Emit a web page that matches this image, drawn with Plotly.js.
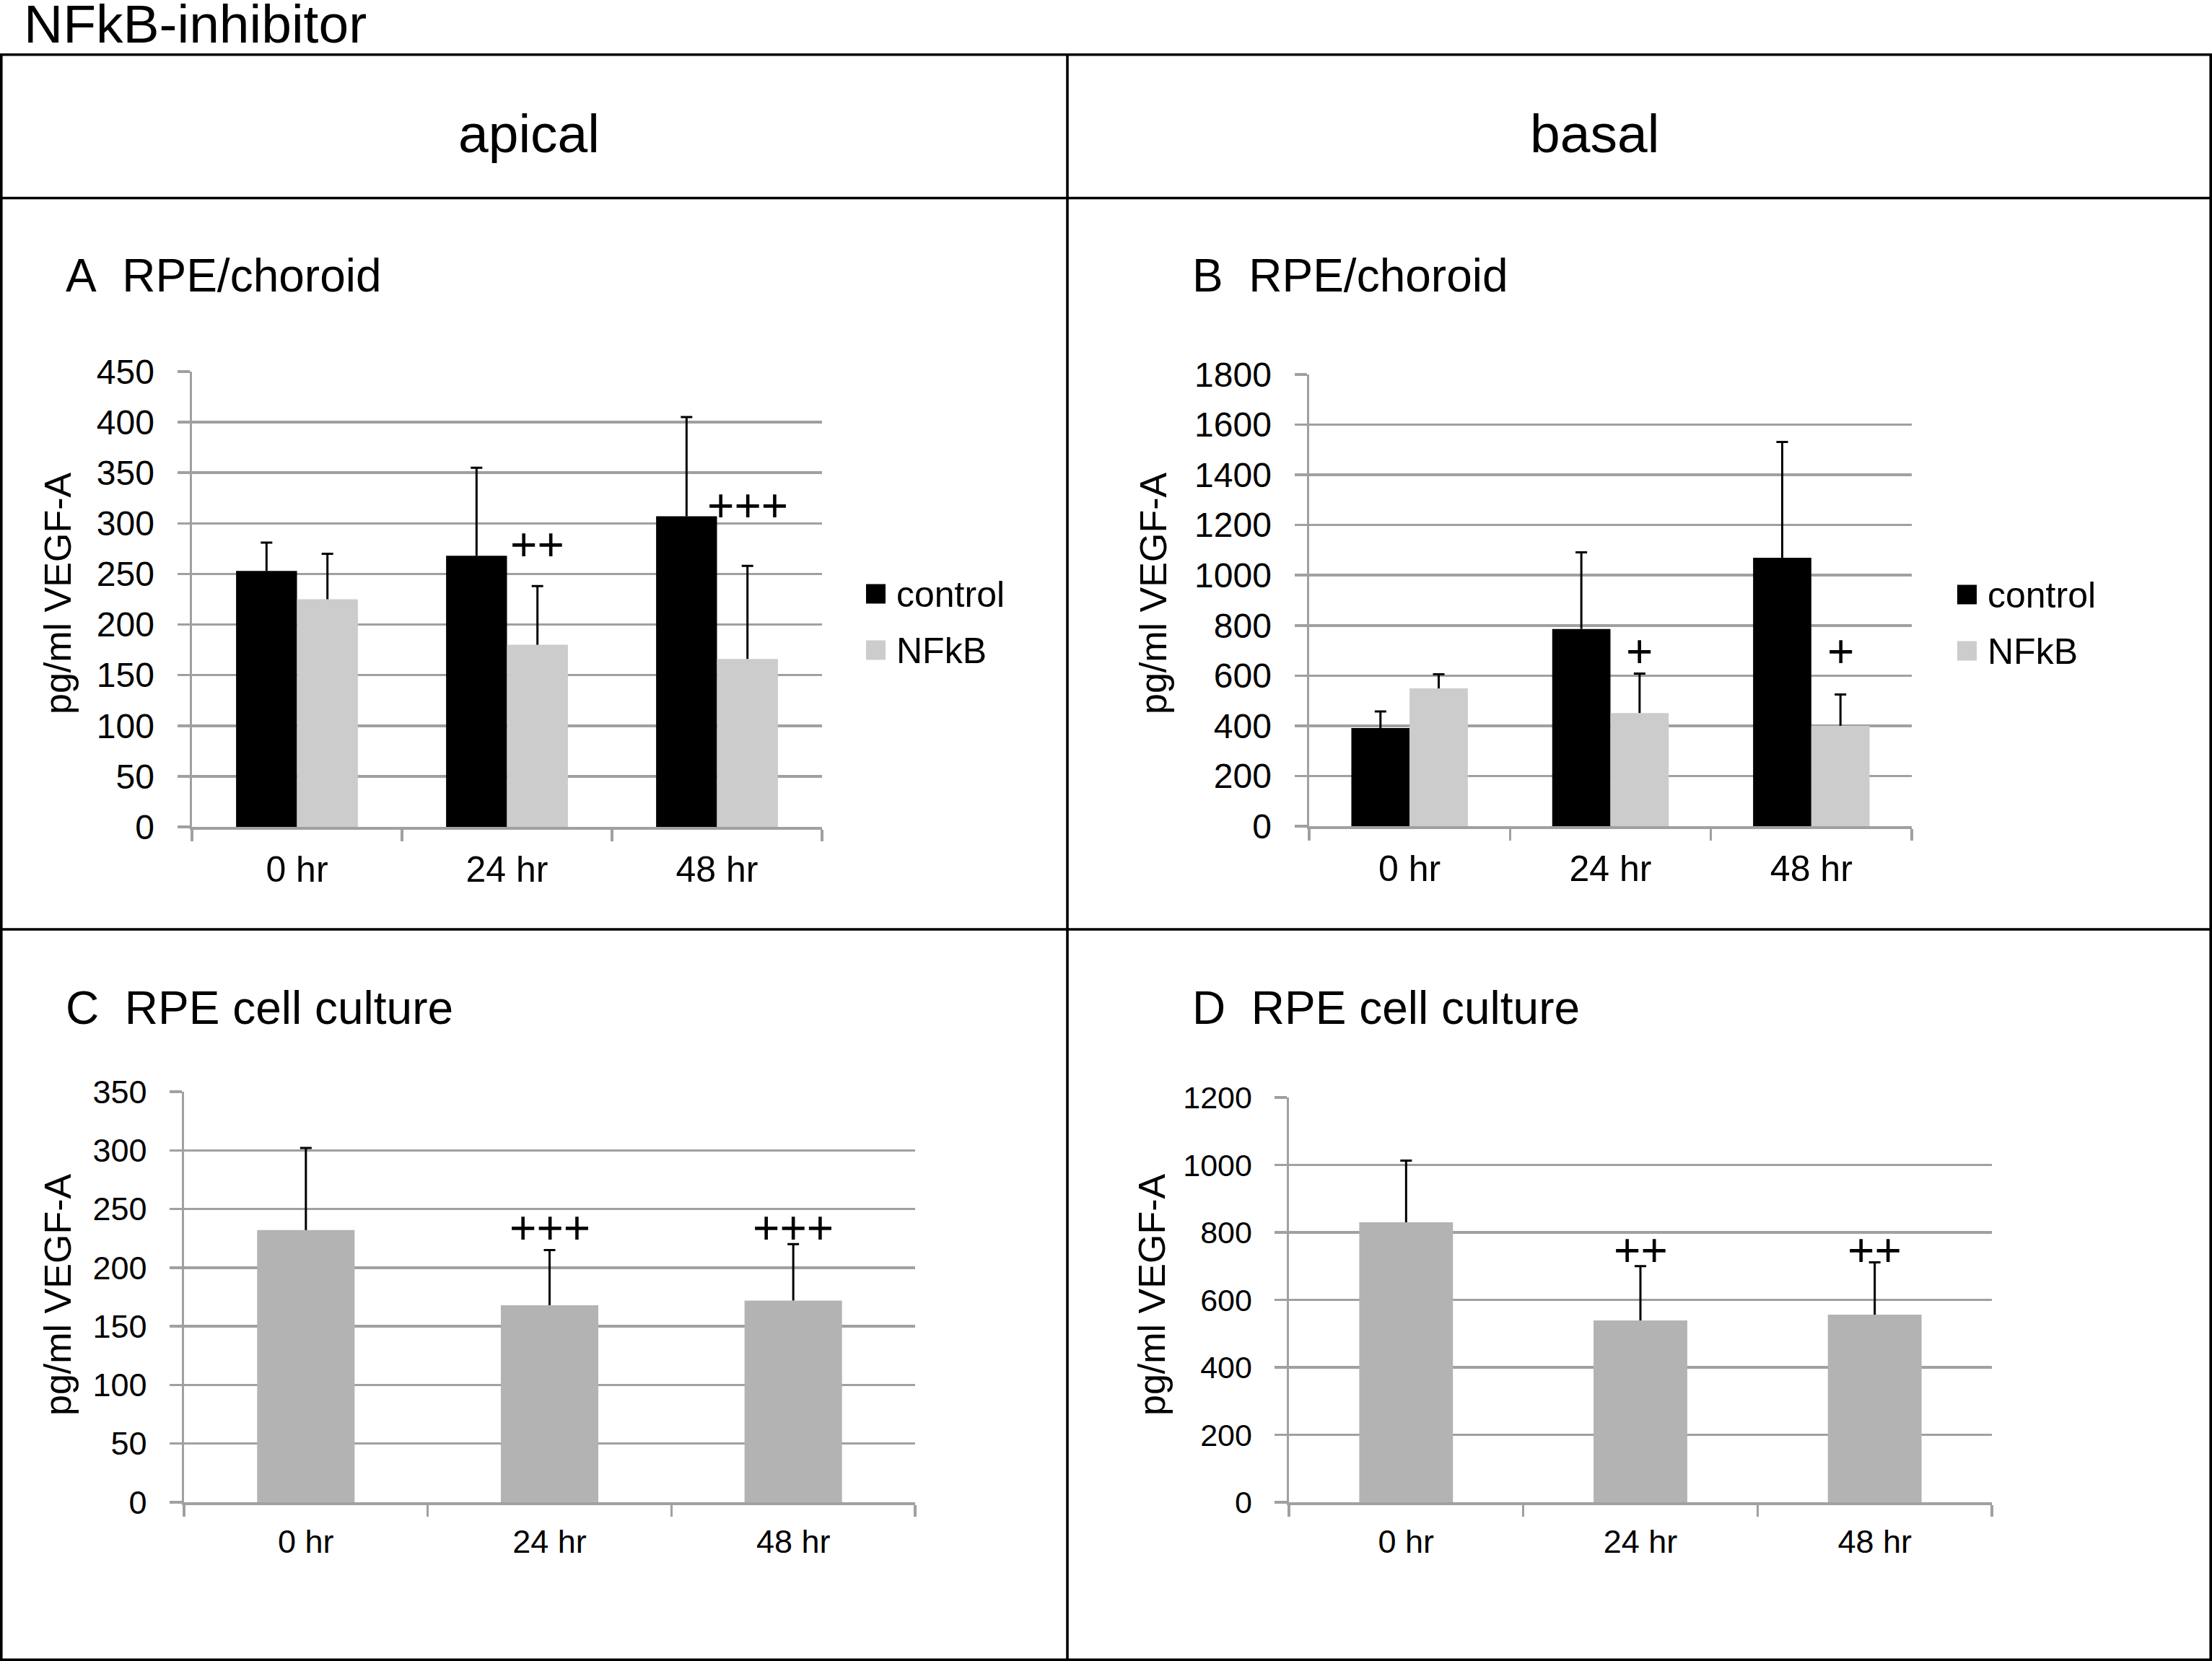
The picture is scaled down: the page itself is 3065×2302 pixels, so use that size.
<!DOCTYPE html>
<html>
<head>
<meta charset="utf-8">
<script src="https://cdn.plot.ly/plotly-3.0.1.min.js"></script>
<style>html,body{margin:0;padding:0;background:#fff;}#chart{width:3065px;height:2302px;}</style>
</head>
<body>
<div id="chart"></div>
<script>
// ---------- data ----------
const categories = ['0 hr', '24 hr', '48 hr'];

const apicalRpeControl    = [253, 268, 307];
const apicalRpeControlErr = [28, 87, 98];
const apicalRpeNfkb       = [225, 180, 166];
const apicalRpeNfkbErr    = [45, 58, 92];

const basalRpeControl     = [391, 786, 1070];
const basalRpeControlErr  = [66, 305, 461];
const basalRpeNfkb        = [549, 451, 400];
const basalRpeNfkbErr     = [56, 157, 125];

const apicalCell          = [232, 168, 172];
const apicalCellErr       = [70, 47, 48];
const basalCell           = [830, 539, 556];
const basalCellErr        = [183, 161, 155];

const sigA = ['', '++', '+++'];
const sigB = ['', '+', '+'];
const sigC = ['', '+++', '+++'];
const sigD = ['', '++', '++'];

const seriesNames = ['control', 'NFkB'];
const yTitle = 'pg/ml VEGF-A';

// ---------- style ----------
const W = 3065, H = 2302;
const FONT = 'Liberation Sans, Arial, Helvetica, sans-serif';
const GRID = '#a0a0a0';
const C_CTRL = '#000000';
const C_NFKB = '#cccccc';
const C_CELL = '#b3b3b3';
const fx = p => p / W;
const fy = p => 1 - p / H;

function xAxis(x0, x1, anchor, size) {
  return {domain: [fx(x0), fx(x1)], anchor: anchor, type: 'category', range: [-0.5, 2.5],
    tickson: 'boundaries', ticks: 'outside', ticklen: 16, tickwidth: 3.5, tickcolor: GRID,
    showline: true, linecolor: GRID, linewidth: 3.5, showgrid: false, zeroline: false,
    ticklabelstandoff: 12, tickfont: {family: FONT, size: size, color: '#000'}, fixedrange: true};
}
function yAxis(y0, y1, anchor, range, dtick, size) {
  return {domain: [fy(y1), fy(y0)], anchor: anchor, range: range, dtick: dtick, tick0: 0,
    ticks: 'outside', ticklen: 17, tickwidth: 3.5, tickcolor: GRID,
    showline: true, linecolor: GRID, linewidth: 3.5, showgrid: true, gridcolor: GRID, gridwidth: 3.5,
    zeroline: false, ticklabelstandoff: 22, tickfont: {family: FONT, size: size, color: '#000'}, fixedrange: true};
}

// a bar series: the bar with an upward error stem (no caps), plus a transparent
// bar in the same offset group whose zero-length error bar draws the cap at the top.
const traces = [];
function series(vals, errs, color, xa, ya, group, width) {
  const base = {type: 'bar', x: categories, xaxis: xa, yaxis: ya, offsetgroup: group,
                showlegend: false, hoverinfo: 'skip'};
  if (width) base.width = width;
  traces.push(Object.assign({}, base, {y: vals, marker: {color: color, line: {width: 0}},
    error_y: {type: 'data', symmetric: false, array: errs, arrayminus: errs.map(() => 0),
              color: '#000', thickness: 3, width: 0}}));
  traces.push(Object.assign({}, base, {y: vals.map((v, i) => v + errs[i]),
    marker: {color: 'rgba(0,0,0,0)', line: {width: 0}},
    error_y: {type: 'data', symmetric: true, array: errs.map(() => 0),
              color: '#000', thickness: 3, width: 8}}));
}
series(apicalRpeControl, apicalRpeControlErr, C_CTRL, 'x', 'y', 'a0');
series(apicalRpeNfkb, apicalRpeNfkbErr, C_NFKB, 'x', 'y', 'a1');
series(basalRpeControl, basalRpeControlErr, C_CTRL, 'x2', 'y2', 'b0');
series(basalRpeNfkb, basalRpeNfkbErr, C_NFKB, 'x2', 'y2', 'b1');
series(apicalCell, apicalCellErr, C_CELL, 'x3', 'y3', 'c0', 0.4);
series(basalCell, basalCellErr, C_CELL, 'x4', 'y4', 'd0', 0.4);

// ---------- text ----------
const annotations = [];
function txt(text, xPx, yPx, size, xanchor, extra) {
  annotations.push(Object.assign({text: text, xref: 'paper', yref: 'paper', x: fx(xPx), y: fy(yPx),
    xanchor: xanchor, yanchor: 'middle', showarrow: false,
    font: {family: FONT, size: size, color: '#000'}}, extra || {}));
}
txt('NFkB-inhibitor', 31, 33, 75, 'left');
txt('apical', 733, 185, 75, 'center');
txt('basal', 2209, 185, 75, 'center');
txt('A\u00a0\u00a0RPE/choroid', 89, 382, 64, 'left');
txt('B\u00a0\u00a0RPE/choroid', 1650, 382, 64, 'left');
txt('C\u00a0\u00a0RPE cell culture', 89, 1397, 64, 'left');
txt('D\u00a0\u00a0RPE cell culture', 1650, 1397, 64, 'left');
txt(yTitle, 80, 823, 52, 'center', {textangle: -90});
txt(yTitle, 1598, 823, 52, 'center', {textangle: -90});
txt(yTitle, 80, 1795, 52, 'center', {textangle: -90});
txt(yTitle, 1596, 1795, 52, 'center', {textangle: -90});

// legends (A and B)
const shapes = [];
function legend(x0, yc) {
  seriesNames.forEach((n, i) => {
    const c = yc + i * 78;
    shapes.push({type: 'rect', xref: 'paper', yref: 'paper', x0: fx(x0), x1: fx(x0 + 27),
      y0: fy(c + 13.5), y1: fy(c - 13.5), fillcolor: i === 0 ? C_CTRL : C_NFKB, line: {width: 0}});
    txt(n, x0 + 40, c + 1, 50, 'left');
  });
}
legend(1200, 823);
legend(2712, 824);

// significance markers
const half = 0.145;
const sigFont = {family: FONT, size: 64, color: '#000'};
sigA.forEach((s, i) => { if (s) annotations.push({text: s, xref: 'x', yref: 'y', x: i + half, y: apicalRpeControl[i],
  yshift: 15, xanchor: 'center', yanchor: 'middle', showarrow: false, font: sigFont}); });
sigB.forEach((s, i) => { if (s) annotations.push({text: s, xref: 'x2', yref: 'y2', x: i + half, y: 695,
  xanchor: 'center', yanchor: 'middle', showarrow: false, font: sigFont}); });
sigC.forEach((s, i) => { if (s) annotations.push({text: s, xref: 'x3', yref: 'y3', x: i, y: 234,
  xanchor: 'center', yanchor: 'middle', showarrow: false, font: sigFont}); });
sigD.forEach((s, i) => { if (s) annotations.push({text: s, xref: 'x4', yref: 'y4', x: i, y: 746,
  xanchor: 'center', yanchor: 'middle', showarrow: false, font: sigFont}); });

// table frame
function line(x0, y0, x1, y1) {
  shapes.push({type: 'line', xref: 'paper', yref: 'paper', x0: fx(x0), y0: fy(y0), x1: fx(x1), y1: fy(y1),
    line: {color: '#000', width: 3.6}});
}
line(0, 75.7, W, 75.7);
line(0, 274.5, W, 274.5);
line(0, 1288, W, 1288);
line(0, 2300.2, W, 2300.2);
line(1.8, 75.7, 1.8, H);
line(3063.2, 75.7, 3063.2, H);
line(1479, 75.7, 1479, H);

const layout = {
  width: W, height: H, margin: {l: 0, r: 0, t: 0, b: 0},
  paper_bgcolor: '#fff', plot_bgcolor: '#fff',
  barmode: 'group', bargap: 0.42, bargroupgap: 0,
  showlegend: false,
  font: {family: FONT, color: '#000'},
  xaxis:  xAxis(266, 1139, 'y', 50),
  yaxis:  yAxis(515, 1146, 'x', [0, 450], 50, 48),
  xaxis2: xAxis(1814, 2649, 'y2', 50),
  yaxis2: yAxis(519, 1145, 'x2', [0, 1800], 200, 48),
  xaxis3: xAxis(255, 1268, 'y3', 45),
  yaxis3: yAxis(1513, 2082, 'x3', [0, 350], 50, 45),
  xaxis4: xAxis(1786, 2760, 'y4', 45),
  yaxis4: yAxis(1521, 2082, 'x4', [0, 1200], 200, 43),
  annotations: annotations,
  shapes: shapes
};

Plotly.newPlot('chart', traces, layout, {displayModeBar: false, staticPlot: true});
</script>
</body>
</html>
